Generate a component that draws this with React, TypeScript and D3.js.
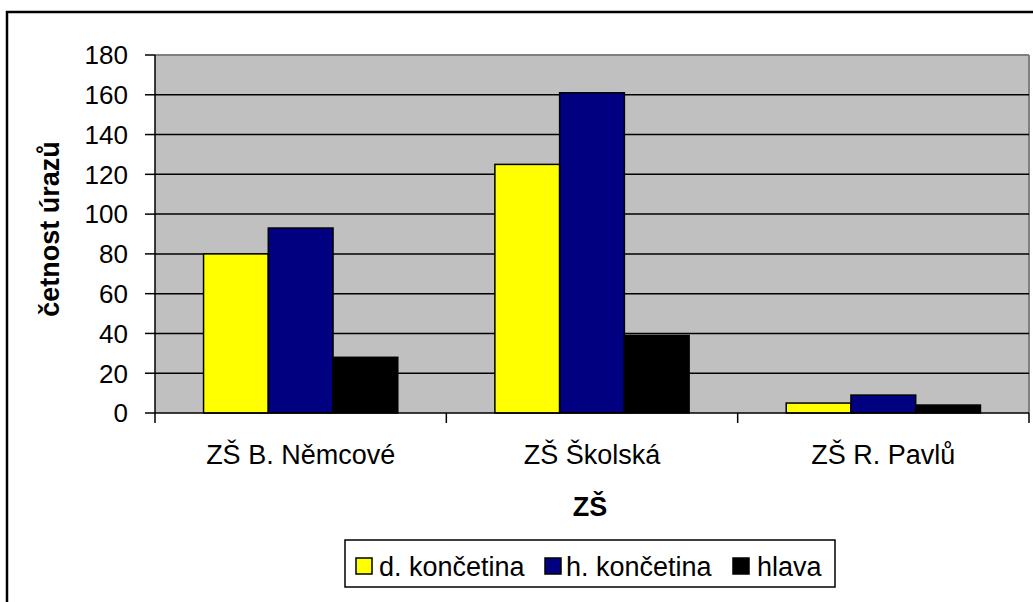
import * as d3 from 'd3'
import React from 'react'

const schools = ['ZŠ B. Němcové', 'ZŠ Školská', 'ZŠ R. Pavlů']
const seriesNames = ['d. končetina', 'h. končetina', 'hlava']
const dKoncetina = [80, 125, 5]
const hKoncetina = [93, 161, 9]
const hlava = [28, 39, 4]
const yTicks = [0, 20, 40, 60, 80, 100, 120, 140, 160, 180]
const colors = ['#FFFF00', '#000080', '#000000']

const font = 'Liberation Sans, Arial, sans-serif'

const App = () => {
  const width = 1033
  const height = 602
  const left = 155
  const right = 1029
  const top = 55
  const bottom = 413

  const series = [dKoncetina, hKoncetina, hlava]

  const x = d3.scaleBand().domain(schools).range([left, right]).paddingInner(0).paddingOuter(0)
  const inner = d3
    .scaleBand()
    .domain(seriesNames)
    .range([0, x.bandwidth()])
    .paddingOuter(0.75)
    .paddingInner(0)
  const y = d3.scaleLinear().domain([0, 180]).range([bottom, top])

  // legend layout
  const legend = [
    { name: seriesNames[0], sx: 356, tx: 379 },
    { name: seriesNames[1], sx: 545, tx: 566 },
    { name: seriesNames[2], sx: 733, tx: 757 },
  ]

  return (
    <svg width={width} height={height} style={{ position: 'absolute', left: 0, top: 0, background: '#fff' }}>
      {/* outer frame, cut off at right and bottom */}
      <rect x={7} y={12} width={width + 20} height={height + 20} fill="white" stroke="black" strokeWidth={2.5} />

      {/* plot area */}
      <rect x={left} y={top} width={right - left} height={bottom - top} fill="#C0C0C0" />
      <line x1={left} x2={right} y1={top} y2={top} stroke="#808080" strokeWidth={2} />
      <line x1={right} x2={right} y1={top} y2={bottom} stroke="#808080" strokeWidth={2} />

      {yTicks.map((t) => (
        <g key={t}>
          {t > 0 && t < 180 && (
            <line x1={left} x2={right} y1={y(t)} y2={y(t)} stroke="#000" strokeWidth={1.5} />
          )}
          <line x1={145} x2={left} y1={y(t)} y2={y(t)} stroke="#000" strokeWidth={1.5} />
          <text x={128} y={y(t)} dy="0.36em" textAnchor="end" fontFamily={font} fontSize={26} fill="#000">
            {t}
          </text>
        </g>
      ))}

      {/* bars */}
      {schools.map((s, i) => (
        <g key={s} transform={`translate(${x(s)},0)`}>
          {series.map((vals, j) => (
            <rect
              key={j}
              x={inner(seriesNames[j])}
              y={y(vals[i])}
              width={inner.bandwidth()}
              height={bottom - y(vals[i])}
              fill={colors[j]}
              stroke="#000"
              strokeWidth={1.5}
            />
          ))}
        </g>
      ))}

      {/* axes */}
      <line x1={left} x2={left} y1={top} y2={bottom} stroke="#000" strokeWidth={1.5} />
      <line x1={left} x2={right} y1={bottom} y2={bottom} stroke="#000" strokeWidth={1.5} />
      {[...schools.map((s) => x(s)), right].map((xx, i) => (
        <line key={i} x1={xx} x2={xx} y1={bottom} y2={bottom + 10} stroke="#000" strokeWidth={1.5} />
      ))}
      {schools.map((s) => (
        <text
          key={s}
          x={x(s) + x.bandwidth() / 2}
          y={464}
          textAnchor="middle"
          fontFamily={font}
          fontSize={27}
          fill="#000"
        >
          {s}
        </text>
      ))}

      {/* axis titles */}
      <text x={590} y={516} textAnchor="middle" fontFamily={font} fontSize={27} fontWeight="bold">
        ZŠ
      </text>
      <text
        transform="translate(59,229) rotate(-90)"
        textAnchor="middle"
        fontFamily={font}
        fontSize={27}
        fontWeight="bold"
      >
        četnost úrazů
      </text>

      {/* legend */}
      <rect x={345} y={540} width={490} height={47} fill="white" stroke="#000" strokeWidth={1.5} />
      {legend.map((l, j) => (
        <g key={l.name}>
          <rect x={l.sx} y={558} width={16} height={16} fill={colors[j]} stroke="#000" strokeWidth={1.5} />
          <text x={l.tx} y={576} fontFamily={font} fontSize={27} fill="#000">
            {l.name}
          </text>
        </g>
      ))}
    </svg>
  )
}

export default App
